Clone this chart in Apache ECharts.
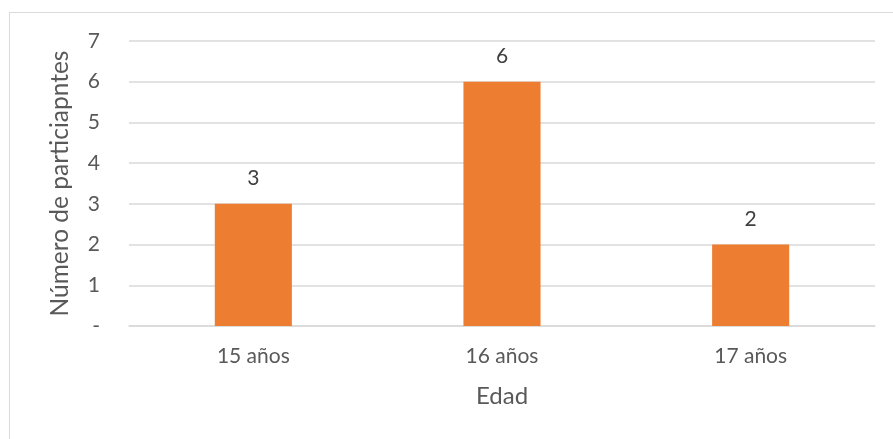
<!DOCTYPE html>
<html><head><meta charset="utf-8">
<script src="https://cdn.jsdelivr.net/npm/echarts@6/dist/echarts.min.js"></script>
<style>html,body{margin:0;padding:0;background:#fff;}#c{width:893px;height:439px;}
#frame{position:absolute;left:9px;top:12px;width:900px;height:440px;border:1px solid #d9d9d9;box-sizing:border-box;pointer-events:none;}</style>
</head><body><div id="c"></div><div id="frame"></div>
<script>
const categories = ['15 años', '16 años', '17 años'];
const values = [3, 6, 2];
const yTicks = ['-', '1', '2', '3', '4', '5', '6', '7'];
const chart = echarts.init(document.getElementById('c'));
const font = 'Lato, "Open Sans", sans-serif';
chart.setOption({
  animation: false,
  grid: {left: 129, right: 18, top: 41, bottom: 113, containLabel: false},
  xAxis: {
    type: 'category', data: categories,
    name: 'Edad', nameLocation: 'middle', nameGap: 58,
    nameTextStyle: {color: '#595959', fontSize: 24, fontFamily: font},
    axisLine: {lineStyle: {color: '#d9d9d9', width: 1.5}},
    axisTick: {show: false},
    axisLabel: {color: '#595959', fontSize: 21, fontFamily: font, margin: 20}
  },
  yAxis: {
    type: 'value', min: 0, max: 7, interval: 1,
    name: 'Número de particiapntes', nameLocation: 'middle', nameGap: 56, nameRotate: 90,
    nameTextStyle: {color: '#595959', fontSize: 24.5, fontFamily: font},
    axisLine: {show: false}, axisTick: {show: false},
    axisLabel: {color: '#595959', fontSize: 21, fontFamily: font, margin: 29,
      formatter: v => yTicks[v]},
    splitLine: {lineStyle: {color: '#d9d9d9', width: 1.5}}
  },
  series: [{
    type: 'bar', data: values, barWidth: '31%',
    itemStyle: {color: '#ed7d31'},
    label: {show: true, position: 'top', distance: 15, color: '#404040', fontSize: 21, fontFamily: font}
  }]
});
</script></body></html>
